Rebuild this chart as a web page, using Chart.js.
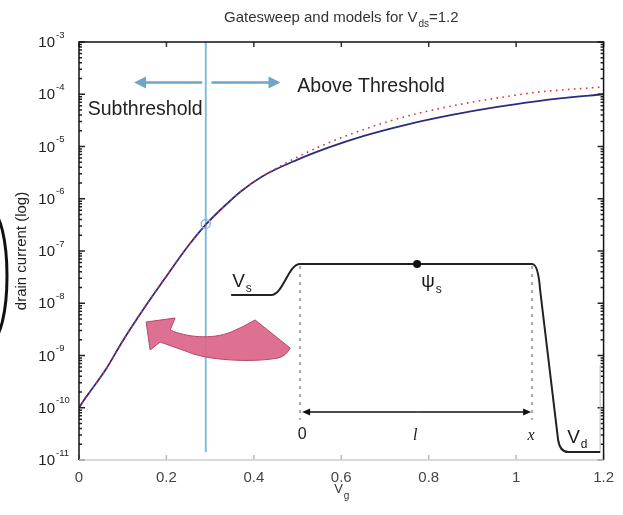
<!DOCTYPE html>
<html>
<head>
<meta charset="utf-8">
<script src="https://cdn.jsdelivr.net/npm/chart.js@4/dist/chart.umd.min.js"></script>
<style>
  html, body { margin: 0; padding: 0; background: #fff; }
</style>
</head>
<body>
<canvas id="grafica" width="623" height="515"></canvas>
<script>
// Barrido de puerta: Vg (V) y corriente de drenador (A)
const gateV = [0, 0.01, 0.03, 0.06, 0.1, 0.15, 0.2, 0.25, 0.29, 0.33, 0.37, 0.42, 0.5, 0.57, 0.65, 0.75, 0.85, 0.95, 1.05, 1.1, 1.2];
const medidaI = [1.0e-10, 1.35e-10, 2.3e-10, 5.2e-10, 1.9e-9, 8.3e-9, 3.3e-8, 1.26e-7, 3.2e-7, 6.9e-7, 1.38e-6, 2.7e-6, 5.6e-6, 9.5e-6, 1.58e-5, 2.63e-5, 3.98e-5, 5.6e-5, 7.4e-5, 8.3e-5, 1.0e-4];
const modeloI = [1.0e-10, 1.35e-10, 2.3e-10, 5.2e-10, 1.9e-9, 8.3e-9, 3.3e-8, 1.26e-7, 3.2e-7, 6.9e-7, 1.38e-6, 2.7e-6, 6.3e-6, 1.17e-5, 2.1e-5, 3.8e-5, 5.9e-5, 8.3e-5, 1.1e-4, 1.2e-4, 1.38e-4];

// Punto de umbral
const umbralV = 0.29;
const umbralI = 3.3e-7;

// Marcas de los ejes
const xTicks = [0, 0.2, 0.4, 0.6, 0.8, 1, 1.2];
const yDecadas = [-11, -10, -9, -8, -7, -6, -5, -4, -3];

const fuente = "'Liberation Sans', Arial, sans-serif";

// texto con subindice (V_ds, V_g, ...)
function textoSub(ctx, base, sub, x, y, tam, tamSub, bajada, alinear) {
    ctx.font = tam + "px " + fuente;
    const w1 = ctx.measureText(base).width;
    ctx.font = tamSub + "px " + fuente;
    const w2 = ctx.measureText(sub).width;
    let x0 = x;
    if (alinear === "center") x0 = x - (w1 + w2) / 2;
    ctx.textAlign = "left";
    ctx.font = tam + "px " + fuente;
    ctx.fillText(base, x0, y);
    ctx.font = tamSub + "px " + fuente;
    ctx.fillText(sub, x0 + w1 + 1, y + bajada);
    return x0 + w1 + 1 + w2;
}

function flecha(ctx, x1, y1, x2, y2, largo, ancho) {
    const a = Math.atan2(y2 - y1, x2 - x1);
    ctx.beginPath();
    ctx.moveTo(x1, y1);
    ctx.lineTo(x2 - Math.cos(a) * largo * 0.8, y2 - Math.sin(a) * largo * 0.8);
    ctx.stroke();
    ctx.beginPath();
    ctx.moveTo(x2, y2);
    ctx.lineTo(x2 - Math.cos(a) * largo - Math.sin(a) * ancho, y2 - Math.sin(a) * largo + Math.cos(a) * ancho);
    ctx.lineTo(x2 - Math.cos(a) * largo + Math.sin(a) * ancho, y2 - Math.sin(a) * largo - Math.cos(a) * ancho);
    ctx.closePath();
    ctx.fill();
}

// Linea vertical del umbral (debajo de las curvas)
const lineaUmbral = {
    id: "lineaUmbral",
    beforeDatasetsDraw(chart) {
        const { ctx, chartArea, scales: { x, y } } = chart;
        const px = x.getPixelForValue(umbralV);
        ctx.save();
        ctx.strokeStyle = "#86bcd6";
        ctx.lineWidth = 2;
        ctx.beginPath();
        ctx.moveTo(px, chartArea.top);
        ctx.lineTo(px, y.getPixelForValue(Math.pow(10, -10.85)));
        ctx.stroke();
        ctx.restore();
    }
};

// Marco, marcas interiores y etiquetas del eje y
const marcoEjes = {
    id: "marcoEjes",
    afterDatasetsDraw(chart) {
        const { ctx, chartArea: a, scales: { x, y } } = chart;
        ctx.save();
        ctx.lineWidth = 1.5;

        // marcas menores y mayores en eje y
        ctx.strokeStyle = "#222";
        yDecadas.forEach(d => {
            const yp = y.getPixelForValue(Math.pow(10, d));
            ctx.beginPath();
            ctx.moveTo(a.left, yp); ctx.lineTo(a.left + 6, yp);
            ctx.moveTo(a.right, yp); ctx.lineTo(a.right - 6, yp);
            ctx.stroke();
            if (d < -3) {
                for (let m = 2; m <= 9; m++) {
                    const ym = y.getPixelForValue(m * Math.pow(10, d));
                    ctx.beginPath();
                    ctx.moveTo(a.left, ym); ctx.lineTo(a.left + 3, ym);
                    ctx.moveTo(a.right, ym); ctx.lineTo(a.right - 3, ym);
                    ctx.stroke();
                }
            }
        });

        // marcas del eje x
        xTicks.forEach(v => {
            const xp = x.getPixelForValue(v);
            ctx.strokeStyle = "#333";
            ctx.beginPath();
            ctx.moveTo(xp, a.top); ctx.lineTo(xp, a.top + 5);
            ctx.stroke();
            ctx.strokeStyle = "#bbb";
            ctx.beginPath();
            ctx.moveTo(xp, a.bottom); ctx.lineTo(xp, a.bottom - 5);
            ctx.stroke();
        });

        // marco
        ctx.strokeStyle = "#111";
        ctx.beginPath();
        ctx.moveTo(a.left, a.bottom);
        ctx.lineTo(a.left, a.top);
        ctx.lineTo(a.right, a.top);
        ctx.lineTo(a.right, a.bottom);
        ctx.stroke();
        ctx.strokeStyle = "#ccc";
        ctx.beginPath();
        ctx.moveTo(a.left, a.bottom);
        ctx.lineTo(a.right, a.bottom);
        ctx.stroke();

        // etiquetas 10^n
        ctx.fillStyle = "#222";
        ctx.textBaseline = "middle";
        yDecadas.forEach(d => {
            const yp = y.getPixelForValue(Math.pow(10, d));
            ctx.textAlign = "right";
            ctx.font = "15px " + fuente;
            ctx.fillText("10", a.left - 24, yp + 1);
            ctx.textAlign = "left";
            ctx.font = "9.5px " + fuente;
            ctx.fillText(String(d), a.left - 23, yp - 7);
        });

        // titulo y etiqueta del eje x
        ctx.textBaseline = "alphabetic";
        ctx.fillStyle = "#333";
        const cx = (a.left + a.right) / 2;
        ctx.font = "15px " + fuente;
        const t1 = "Gatesweep and models for V";
        const t2 = "=1.2";
        const w1 = ctx.measureText(t1).width;
        const w3 = ctx.measureText(t2).width;
        ctx.font = "10px " + fuente;
        const w2 = ctx.measureText("ds").width;
        let x0 = cx - (w1 + w2 + w3 + 1) / 2;
        ctx.textAlign = "left";
        ctx.font = "15px " + fuente;
        ctx.fillText(t1, x0, a.top - 20);
        ctx.font = "10px " + fuente;
        ctx.fillText("ds", x0 + w1 + 1, a.top - 15);
        ctx.font = "15px " + fuente;
        ctx.fillText(t2, x0 + w1 + w2 + 1, a.top - 20);

        textoSub(ctx, "V", "g", cx, a.bottom + 33, 13, 10, 6, "center");
        ctx.restore();
    }
};

// Textos, flechas y esquema del canal sobre el grafico
const anotaciones = {
    id: "anotaciones",
    afterDraw(chart) {
        const { ctx, scales: { x, y } } = chart;
        const P = (v, lg) => [x.getPixelForValue(v), y.getPixelForValue(Math.pow(10, lg))];
        ctx.save();

        // flechas sub/sobre umbral
        ctx.strokeStyle = "#6fa5c6";
        ctx.fillStyle = "#6fa5c6";
        ctx.lineWidth = 2.5;
        let [xa, ya] = P(0.282, -3.775);
        let [xb] = P(0.126, -3.775);
        flecha(ctx, xa, ya, xb, ya, 12, 6);
        [xa] = P(0.303, -3.775);
        [xb] = P(0.461, -3.775);
        flecha(ctx, xa, ya, xb, ya, 12, 6);

        ctx.fillStyle = "#222";
        ctx.font = "19.5px " + fuente;
        ctx.textAlign = "left";
        let [tx, ty] = P(0.02, -4.397);
        ctx.fillText("Subthreshold", tx, ty);
        [tx, ty] = P(0.4995, -3.957);
        ctx.fillText("Above Threshold", tx, ty);

        // esquema del potencial en el canal, anclado en (0.348, 10^-7.249)
        const [ox, oy] = P(0.348, -7.249);
        ctx.translate(ox, oy);

        // flecha curva rosa
        ctx.fillStyle = "rgba(220,104,140,0.95)";
        ctx.strokeStyle = "#b9456b";
        ctx.lineWidth = 1;
        ctx.beginPath();
        ctx.moveTo(-85, 58);
        ctx.lineTo(-56, 54);
        ctx.lineTo(-61, 66);
        ctx.bezierCurveTo(-45, 73, -20, 76, 0, 68);
        ctx.quadraticCurveTo(12, 63, 24, 56);
        ctx.lineTo(59, 84);
        ctx.quadraticCurveTo(55, 92, 47, 94);
        ctx.bezierCurveTo(20, 99, -25, 96, -43, 88);
        ctx.lineTo(-71, 78);
        ctx.lineTo(-81, 86);
        ctx.closePath();
        ctx.fill();
        ctx.stroke();

        // borde del recuadro
        ctx.strokeStyle = "#bbb";
        ctx.lineWidth = 1;
        ctx.beginPath();
        ctx.moveTo(369, 101); ctx.lineTo(369, 189);
        ctx.stroke();

        // lineas discontinuas
        ctx.strokeStyle = "#aaa";
        ctx.lineWidth = 2;
        ctx.setLineDash([3, 5]);
        ctx.beginPath();
        ctx.moveTo(69, 2); ctx.lineTo(69, 156);
        ctx.moveTo(301, 2); ctx.lineTo(301, 156);
        ctx.stroke();
        ctx.setLineDash([]);

        // perfil del potencial
        ctx.strokeStyle = "#222";
        ctx.lineWidth = 2;
        ctx.beginPath();
        ctx.moveTo(0, 31);
        ctx.lineTo(40, 31);
        ctx.bezierCurveTo(52, 31, 57, 0, 69, 0);
        ctx.lineTo(301, 0);
        ctx.quadraticCurveTo(307, 0, 309, 26);
        ctx.lineTo(327, 176);
        ctx.quadraticCurveTo(329, 188, 337, 188);
        ctx.lineTo(369, 188);
        ctx.stroke();

        ctx.fillStyle = "#111";
        ctx.beginPath();
        ctx.arc(186, 0, 4, 0, Math.PI * 2);
        ctx.fill();

        // flecha doble de longitud
        ctx.lineWidth = 1.5;
        ctx.strokeStyle = "#111";
        flecha(ctx, 186, 148, 71, 148, 8, 3.5);
        flecha(ctx, 186, 148, 300, 148, 8, 3.5);

        ctx.fillStyle = "#1a1a1a";
        textoSub(ctx, "V", "s", 1, 23, 19, 12, 5, "left");
        textoSub(ctx, "\u03C8", "s", 190, 23, 19, 12, 6, "left");
        textoSub(ctx, "V", "d", 336, 179, 19, 12, 5, "left");
        ctx.textAlign = "center";
        ctx.font = "16px " + fuente;
        ctx.fillText("0", 71, 175);
        ctx.font = "italic 16px 'Liberation Serif', serif";
        ctx.fillText("l", 184, 176);
        ctx.fillText("x", 300, 176);
        ctx.restore();

        // arco cortado en el borde izquierdo
        ctx.save();
        ctx.strokeStyle = "#111";
        ctx.lineWidth = 3;
        ctx.beginPath();
        ctx.ellipse(-8.5, 276, 15.5, 64, 0, -Math.PI / 2, Math.PI / 2);
        ctx.stroke();
        ctx.restore();
    }
};

new Chart(document.getElementById("grafica"), {
    type: "line",
    data: {
        datasets: [
            {
                label: "umbral",
                data: [{ x: umbralV, y: umbralI }],
                showLine: false,
                pointRadius: 4.5,
                pointBorderColor: "#86bcd6",
                pointBackgroundColor: "rgba(0,0,0,0)",
                pointBorderWidth: 1.5,
                order: -1
            },
            {
                label: "modelo",
                data: gateV.map((v, i) => ({ x: v, y: modeloI[i] })),
                borderColor: "#d8363c",
                borderWidth: 1.6,
                borderDash: [1.6, 4.4],
                pointRadius: 0,
                cubicInterpolationMode: "monotone",
                order: 0
            },
            {
                label: "medida",
                data: gateV.map((v, i) => ({ x: v, y: medidaI[i] })),
                borderColor: "#2c2c7c",
                borderWidth: 1.8,
                pointRadius: 0,
                cubicInterpolationMode: "monotone",
                order: 1
            }
        ]
    },
    options: {
        responsive: false,
        animation: false,
        layout: { padding: { top: 42, right: 13, left: 0, bottom: 0 } },
        plugins: { legend: { display: false }, tooltip: { enabled: false }, title: { display: false } },
        scales: {
            x: {
                type: "linear",
                min: 0,
                max: 1.2,
                afterBuildTicks: s => { s.ticks = xTicks.map(v => ({ value: v })); },
                grid: { display: false, drawTicks: false },
                border: { display: false },
                ticks: {
                    callback: v => String(v),
                    font: { family: fuente, size: 15 },
                    color: "#444",
                    padding: 9,
                    maxRotation: 0,
                    autoSkip: false
                },
                afterFit: s => { s.height = 55; }
            },
            y: {
                type: "logarithmic",
                min: 1e-11,
                max: 1e-3,
                grid: { display: false, drawTicks: false },
                border: { display: false },
                ticks: { display: false },
                title: {
                    display: true,
                    text: "drain current (log)",
                    font: { family: fuente, size: 15 },
                    color: "#222",
                    padding: { top: 13, bottom: 0 }
                },
                afterFit: s => { s.width = 79; }
            }
        }
    },
    plugins: [lineaUmbral, marcoEjes, anotaciones]
});
</script>
</body>
</html>
